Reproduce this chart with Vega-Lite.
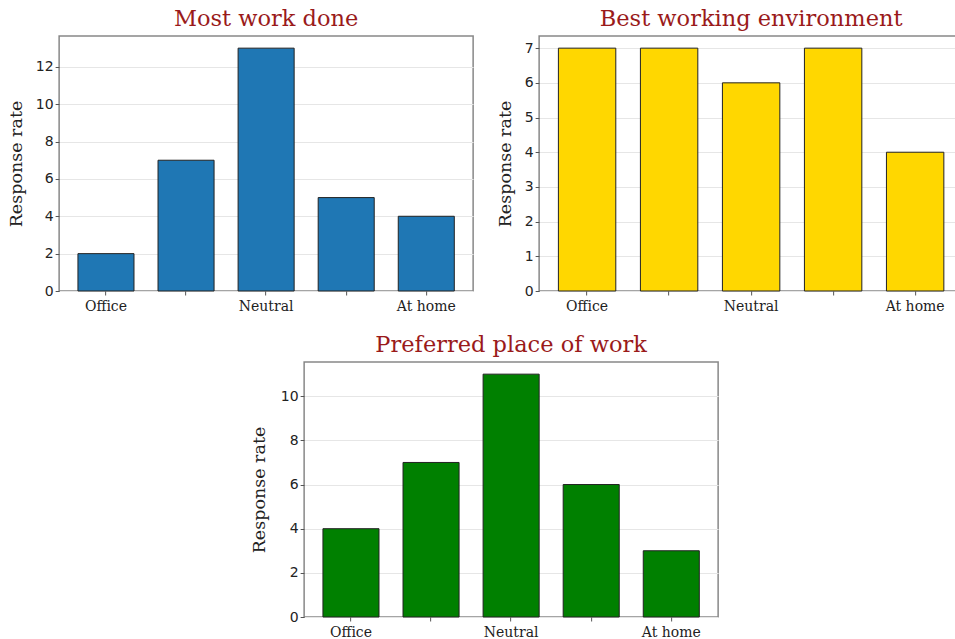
{
  "$schema": "https://vega.github.io/schema/vega-lite/v6.json",
  "padding": {"top": 6, "left": 6, "right": 0, "bottom": 0},
  "background": "white",
  "center": true,
  "spacing": 18,
  "config": {
    "view": {"stroke": "#888888", "strokeWidth": 1.5},
    "title": {"font": "DejaVu Serif", "fontSize": 22.5, "fontWeight": "normal", "color": "#9a1a1a", "offset": 6},
    "axis": {
      "domain": false,
      "tickColor": "#555555",
      "tickSize": 4,
      "gridColor": "#e6e6e6",
      "gridWidth": 1,
      "labelColor": "#222222",
      "titleColor": "#222222"
    },
    "axisY": {
      "labelFont": "DejaVu Sans",
      "labelFontSize": 14,
      "titleFont": "DejaVu Serif",
      "titleFontSize": 17.5,
      "titleFontWeight": "normal",
      "titlePadding": 10,
      "grid": true
    },
    "axisX": {
      "labelFont": "DejaVu Serif",
      "labelFontSize": 14,
      "labelAngle": 0,
      "grid": false,
      "labelPadding": 4
    }
  },
  "vconcat": [
    {
      "spacing": 21,
      "hconcat": [
        {
          "title": "Most work done",
          "width": 414,
          "height": 255,
          "data": {"values": [
            {"pos": 1, "rate": 2},
            {"pos": 2, "rate": 7},
            {"pos": 3, "rate": 13},
            {"pos": 4, "rate": 5},
            {"pos": 5, "rate": 4}
          ]},
          "mark": {"type": "bar", "color": "#1f77b4", "stroke": "#222222", "strokeWidth": 1},
          "encoding": {
            "x": {"field": "pos", "type": "ordinal", "scale": {"paddingInner": 0.3, "paddingOuter": 0.235},
                  "axis": {"title": null, "labelExpr": "datum.value == 1 ? 'Office' : datum.value == 3 ? 'Neutral' : datum.value == 5 ? 'At home' : ''"}},
            "y": {"field": "rate", "type": "quantitative", "scale": {"domain": [0, 13.65], "nice": false},
                  "axis": {"title": "Response rate", "values": [0, 2, 4, 6, 8, 10, 12]}}
          }
        },
        {
          "title": "Best working environment",
          "width": 424,
          "height": 255,
          "data": {"values": [
            {"pos": 1, "rate": 7},
            {"pos": 2, "rate": 7},
            {"pos": 3, "rate": 6},
            {"pos": 4, "rate": 7},
            {"pos": 5, "rate": 4}
          ]},
          "mark": {"type": "bar", "color": "#ffd700", "stroke": "#222222", "strokeWidth": 1},
          "encoding": {
            "x": {"field": "pos", "type": "ordinal", "scale": {"paddingInner": 0.3, "paddingOuter": 0.235},
                  "axis": {"title": null, "labelExpr": "datum.value == 1 ? 'Office' : datum.value == 3 ? 'Neutral' : datum.value == 5 ? 'At home' : ''"}},
            "y": {"field": "rate", "type": "quantitative", "scale": {"domain": [0, 7.35], "nice": false},
                  "axis": {"title": "Response rate", "values": [0, 1, 2, 3, 4, 5, 6, 7]}}
          }
        }
      ]
    },
    {
      "title": "Preferred place of work",
      "width": 414,
      "height": 255,
      "data": {"values": [
        {"pos": 1, "rate": 4},
        {"pos": 2, "rate": 7},
        {"pos": 3, "rate": 11},
        {"pos": 4, "rate": 6},
        {"pos": 5, "rate": 3}
      ]},
      "mark": {"type": "bar", "color": "#008000", "stroke": "#222222", "strokeWidth": 1},
      "encoding": {
        "x": {"field": "pos", "type": "ordinal", "scale": {"paddingInner": 0.3, "paddingOuter": 0.235},
              "axis": {"title": null, "labelExpr": "datum.value == 1 ? 'Office' : datum.value == 3 ? 'Neutral' : datum.value == 5 ? 'At home' : ''"}},
        "y": {"field": "rate", "type": "quantitative", "scale": {"domain": [0, 11.55], "nice": false},
              "axis": {"title": "Response rate", "titlePadding": 12, "values": [0, 2, 4, 6, 8, 10]}}
      }
    }
  ]
}
